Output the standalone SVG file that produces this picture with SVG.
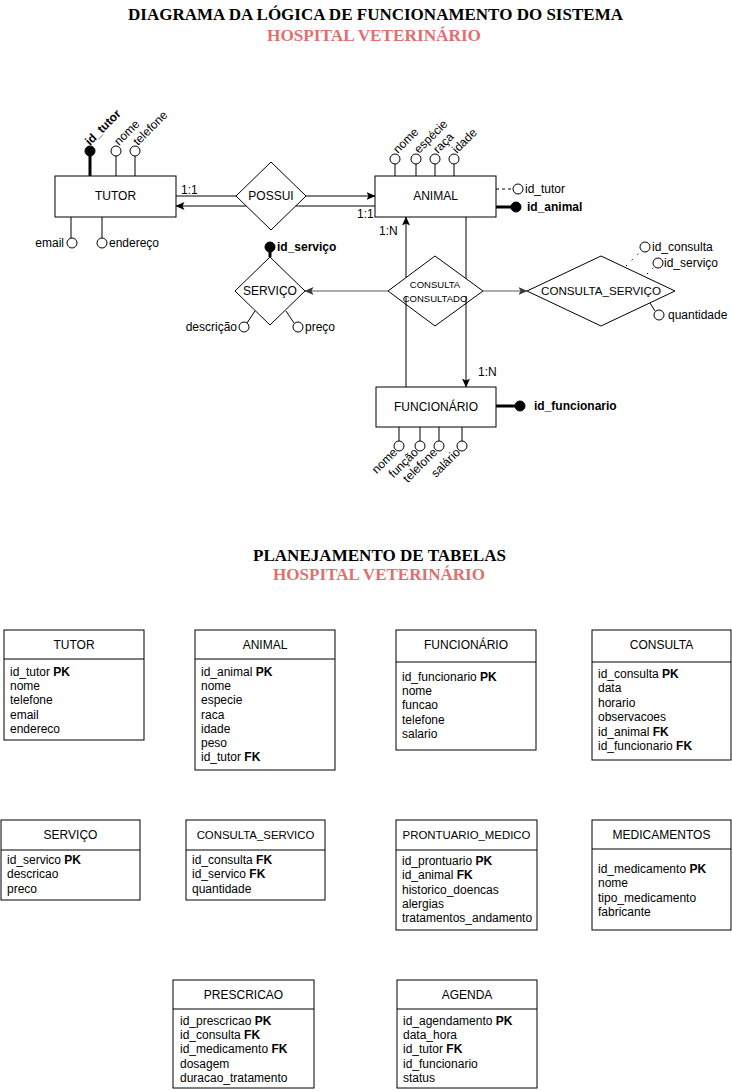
<svg xmlns="http://www.w3.org/2000/svg" width="732" height="1091" viewBox="0 0 732 1091">
<defs>
<style>
text{font-family:"Liberation Sans",Arial,sans-serif;font-size:12px;fill:#000}
.ttl{font-family:"Liberation Serif","Times New Roman",serif;font-weight:bold;font-size:17px;text-anchor:middle}
.red{fill:#E07070}
.c{text-anchor:middle}
.e{text-anchor:end}
.b{font-weight:bold}
.box{fill:#fff;stroke:#000;stroke-width:1}
.ln{fill:none;stroke:#000;stroke-width:1}
.thick{fill:none;stroke:#000;stroke-width:3}
.gray{fill:none;stroke:#5a5a5a;stroke-width:1.2}
.oc{fill:#fff;stroke:#000;stroke-width:1}
.fc{fill:#000;stroke:#000;stroke-width:1}
.small{font-size:9.5px}
.s11{font-size:11.4px}
.s115{font-size:11.6px}
</style>
<marker id="arr" viewBox="0 0 9 8" markerWidth="9" markerHeight="8" refX="8.5" refY="4" orient="auto" markerUnits="userSpaceOnUse">
<path d="M0,0 L9,4 L0,8 L2,4 z" fill="#000"/>
</marker>
<marker id="arrg" viewBox="0 0 9 8" markerWidth="9" markerHeight="8" refX="8.5" refY="4" orient="auto" markerUnits="userSpaceOnUse">
<path d="M0,0 L9,4 L0,8 L2,4 z" fill="#3a3a3a"/>
</marker>
</defs>
<rect width="732" height="1091" fill="#fff"/>

<g id="titles">
<text class="ttl" x="375.5" y="20" textLength="495" lengthAdjust="spacingAndGlyphs">DIAGRAMA DA LÓGICA DE FUNCIONAMENTO DO SISTEMA</text>
<text class="ttl red" x="374" y="41" textLength="214" lengthAdjust="spacingAndGlyphs">HOSPITAL VETERINÁRIO</text>
<text class="ttl" x="379.5" y="561" textLength="253" lengthAdjust="spacingAndGlyphs">PLANEJAMENTO DE TABELAS</text>
<text class="ttl red" x="379" y="580" textLength="212" lengthAdjust="spacingAndGlyphs">HOSPITAL VETERINÁRIO</text>
</g>

<g id="connectors">
<line class="ln" x1="176" y1="196" x2="236" y2="196"/>
<line class="ln" x1="306" y1="196" x2="375" y2="196" marker-end="url(#arr)"/>
<line class="ln" x1="375" y1="206" x2="176" y2="206" marker-end="url(#arr)"/>
<line class="ln" x1="406" y1="387" x2="406" y2="217" marker-end="url(#arr)"/>
<line class="ln" x1="466" y1="217" x2="466" y2="387" marker-end="url(#arr)"/>
<line class="gray" x1="388" y1="291" x2="305" y2="291" marker-end="url(#arrg)"/>
<line class="gray" x1="483" y1="291" x2="527" y2="291" marker-end="url(#arrg)"/>
<text x="181" y="194">1:1</text>
<text x="357" y="218">1:1</text>
<text x="379" y="235">1:N</text>
<text x="478" y="376">1:N</text>
</g>

<g id="tutor">
<rect class="box" x="55" y="176" width="121" height="41"/>
<text class="c" x="115.5" y="200">TUTOR</text>
</g>
<g id="tutor-id_tutor">
<line class="thick" x1="90" y1="176" x2="90" y2="155"/>
<circle class="fc" cx="90" cy="151" r="5"/>
<text class="b" x="90" y="146" transform="rotate(-45 90 146)">id_tutor</text>
</g>
<g id="tutor-nome">
<line class="ln" x1="116" y1="176" x2="116" y2="156"/>
<circle class="oc" cx="116" cy="151" r="5"/>
<text x="119" y="146" transform="rotate(-45 119 146)">nome</text>
</g>
<g id="tutor-telefone">
<line class="ln" x1="135" y1="176" x2="135" y2="156"/>
<circle class="oc" cx="135" cy="151" r="5"/>
<text x="138" y="146" transform="rotate(-45 138 146)">telefone</text>
</g>
<g id="tutor-email">
<line class="ln" x1="71" y1="217" x2="71" y2="238"/>
<circle class="oc" cx="72" cy="243" r="5"/>
<text class="e" x="64" y="247">email</text>
</g>
<g id="tutor-endereco">
<line class="ln" x1="102" y1="217" x2="102" y2="238"/>
<circle class="oc" cx="102" cy="243" r="5"/>
<text x="109" y="247">endereço</text>
</g>

<g id="possui">
<polygon class="box" points="236,196 271,162 306,196 271,230"/>
<text class="c" x="271" y="200">POSSUI</text>
</g>

<g id="animal">
<rect class="box" x="375" y="176" width="121" height="41"/>
<text class="c" x="435.5" y="200">ANIMAL</text>
</g>
<g id="animal-nome">
<line class="ln" x1="395" y1="176" x2="395" y2="164"/>
<circle class="oc" cx="395" cy="159" r="5"/>
<text x="398" y="154" transform="rotate(-45 398 154)">nome</text>
</g>
<g id="animal-especie">
<line class="ln" x1="416" y1="176" x2="416" y2="164"/>
<circle class="oc" cx="416" cy="159" r="5"/>
<text x="419" y="154" transform="rotate(-45 419 154)">espécie</text>
</g>
<g id="animal-raca">
<line class="ln" x1="435" y1="176" x2="435" y2="164"/>
<circle class="oc" cx="435" cy="159" r="5"/>
<text x="438" y="154" transform="rotate(-45 438 154)">raça</text>
</g>
<g id="animal-idade">
<line class="ln" x1="454" y1="176" x2="454" y2="164"/>
<circle class="oc" cx="454" cy="159" r="5"/>
<text x="457" y="154" transform="rotate(-45 457 154)">idade</text>
</g>
<g id="animal-id_tutor">
<line class="ln" x1="496" y1="189" x2="513" y2="189" stroke-dasharray="3 3"/>
<circle class="oc" cx="518" cy="189" r="5"/>
<text x="525" y="193">id_tutor</text>
</g>
<g id="animal-id_animal">
<line class="thick" x1="496" y1="207" x2="512" y2="207"/>
<circle class="fc" cx="516" cy="207" r="5"/>
<text class="b" x="527" y="211">id_animal</text>
</g>

<g id="servico">
<polygon class="box" points="235,291 270,257 305,291 270,325"/>
<text class="c" x="270" y="295">SERVIÇO</text>
</g>
<g id="servico-id_servico">
<line class="thick" x1="270" y1="257" x2="270" y2="250"/>
<circle class="fc" cx="270" cy="247" r="5"/>
<text class="b" x="277" y="251">id_serviço</text>
</g>
<g id="servico-descricao">
<line class="ln" x1="255" y1="311" x2="247" y2="323"/>
<circle class="oc" cx="244" cy="327" r="5"/>
<text class="e" x="237" y="331">descrição</text>
</g>
<g id="servico-preco">
<line class="ln" x1="286" y1="311" x2="294" y2="323"/>
<circle class="oc" cx="298" cy="327" r="5"/>
<text x="305" y="331">preço</text>
</g>

<g id="consulta">
<polygon class="box" points="388,291 435,256 483,291 435,326"/>
<text class="c small" x="435" y="288">CONSULTA</text>
<text class="c small" x="435" y="302">CONSULTADO</text>
</g>
<g id="connectors-over">
<line class="ln" x1="406" y1="296" x2="406" y2="305"/>
<line class="ln" x1="466" y1="296" x2="466" y2="304"/>
</g>

<g id="consulta_servico">
<polygon class="box" points="527,291 601,256 675,291 601,326"/>
<text class="c s115" x="601" y="295">CONSULTA_SERVIÇO</text>
</g>
<g id="cs-id_consulta">
<line class="ln" x1="626" y1="266" x2="641" y2="251" stroke-dasharray="1.5 6.5"/>
<circle class="oc" cx="645" cy="247" r="5"/>
<text x="652" y="251">id_consulta</text>
</g>
<g id="cs-id_servico">
<line class="ln" x1="647" y1="274" x2="655" y2="266" stroke-dasharray="1.5 6"/>
<circle class="oc" cx="658" cy="263" r="5"/>
<text x="664" y="267">id_serviço</text>
</g>
<g id="cs-quantidade">
<line class="ln" x1="650" y1="303" x2="655" y2="311"/>
<circle class="oc" cx="659" cy="315" r="5"/>
<text x="668" y="319">quantidade</text>
</g>

<g id="funcionario">
<rect class="box" x="376" y="387" width="120" height="40"/>
<text class="c" x="436" y="411">FUNCIONÁRIO</text>
</g>
<g id="func-id_funcionario">
<line class="thick" x1="496" y1="406" x2="516" y2="406"/>
<circle class="fc" cx="520" cy="406" r="5"/>
<text class="b" x="534" y="410">id_funcionario</text>
</g>
<g id="func-nome">
<line class="ln" x1="399" y1="427" x2="399" y2="441"/>
<circle class="oc" cx="399" cy="446" r="5"/>
<text class="e" x="398" y="453" transform="rotate(-45 398 453)">nome</text>
</g>
<g id="func-funcao">
<line class="ln" x1="420" y1="427" x2="420" y2="441"/>
<circle class="oc" cx="420" cy="446" r="5"/>
<text class="e" x="419" y="453" transform="rotate(-45 419 453)">função</text>
</g>
<g id="func-telefone">
<line class="ln" x1="439" y1="427" x2="439" y2="441"/>
<circle class="oc" cx="439" cy="446" r="5"/>
<text class="e" x="438" y="453" transform="rotate(-45 438 453)">telefone</text>
</g>
<g id="func-salario">
<line class="ln" x1="462" y1="427" x2="462" y2="441"/>
<circle class="oc" cx="462" cy="446" r="5"/>
<text class="e" x="461" y="453" transform="rotate(-45 461 453)">salário</text>
</g>

<g id="t-tutor">
<rect class="box" x="4" y="630" width="140" height="110"/>
<line class="ln" x1="4" y1="659" x2="144" y2="659"/>
<text class="c" x="74" y="649">TUTOR</text>
<text x="10" y="676">id_tutor <tspan class="b">PK</tspan></text>
<text x="10" y="690.2">nome</text>
<text x="10" y="704.4">telefone</text>
<text x="10" y="718.6">email</text>
<text x="10" y="732.8">endereco</text>
</g>

<g id="t-animal">
<rect class="box" x="195" y="630" width="140" height="140"/>
<line class="ln" x1="195" y1="659" x2="335" y2="659"/>
<text class="c" x="265" y="649">ANIMAL</text>
<text x="201" y="676">id_animal <tspan class="b">PK</tspan></text>
<text x="201" y="690.2">nome</text>
<text x="201" y="704.4">especie</text>
<text x="201" y="718.6">raca</text>
<text x="201" y="732.8">idade</text>
<text x="201" y="747">peso</text>
<text x="201" y="761.2">id_tutor <tspan class="b">FK</tspan></text>
</g>

<g id="t-funcionario">
<rect class="box" x="396" y="630" width="140" height="120"/>
<line class="ln" x1="396" y1="662" x2="536" y2="662"/>
<text class="c" x="466" y="649">FUNCIONÁRIO</text>
<text x="402" y="681">id_funcionario <tspan class="b">PK</tspan></text>
<text x="402" y="695.2">nome</text>
<text x="402" y="709.4">funcao</text>
<text x="402" y="723.6">telefone</text>
<text x="402" y="737.8">salario</text>
</g>

<g id="t-consulta">
<rect class="box" x="592" y="630" width="139" height="130"/>
<line class="ln" x1="592" y1="662" x2="731" y2="662"/>
<text class="c" x="661.5" y="649">CONSULTA</text>
<text x="598" y="678">id_consulta <tspan class="b">PK</tspan></text>
<text x="598" y="692.4">data</text>
<text x="598" y="706.8">horario</text>
<text x="598" y="721.2">observacoes</text>
<text x="598" y="735.6">id_animal <tspan class="b">FK</tspan></text>
<text x="598" y="750">id_funcionario <tspan class="b">FK</tspan></text>
</g>

<g id="t-servico">
<rect class="box" x="1" y="820" width="139" height="80"/>
<line class="ln" x1="1" y1="850" x2="140" y2="850"/>
<text class="c" x="70.5" y="839">SERVIÇO</text>
<text x="7" y="864">id_servico <tspan class="b">PK</tspan></text>
<text x="7" y="878.4">descricao</text>
<text x="7" y="892.8">preco</text>
</g>

<g id="t-consulta_servico">
<rect class="box" x="186" y="820" width="139" height="80"/>
<line class="ln" x1="186" y1="850" x2="325" y2="850"/>
<text class="c s11" x="255.5" y="839">CONSULTA_SERVICO</text>
<text x="192" y="864">id_consulta <tspan class="b">FK</tspan></text>
<text x="192" y="878.4">id_servico <tspan class="b">FK</tspan></text>
<text x="192" y="892.8">quantidade</text>
</g>

<g id="t-prontuario_medico">
<rect class="box" x="396" y="820" width="141" height="110"/>
<line class="ln" x1="396" y1="850" x2="537" y2="850"/>
<text class="c s11" x="466.5" y="839">PRONTUARIO_MEDICO</text>
<text x="402" y="865">id_prontuario <tspan class="b">PK</tspan></text>
<text x="402" y="879.3">id_animal <tspan class="b">FK</tspan></text>
<text x="402" y="893.6">historico_doencas</text>
<text x="402" y="907.9">alergias</text>
<text x="402" y="922.2">tratamentos_andamento</text>
</g>

<g id="t-medicamentos">
<rect class="box" x="592" y="820" width="139" height="110"/>
<line class="ln" x1="592" y1="849" x2="731" y2="849"/>
<text class="c" x="661.5" y="839">MEDICAMENTOS</text>
<text x="598" y="873">id_medicamento <tspan class="b">PK</tspan></text>
<text x="598" y="887.3">nome</text>
<text x="598" y="901.6">tipo_medicamento</text>
<text x="598" y="915.9">fabricante</text>
</g>

<g id="t-prescricao">
<rect class="box" x="173" y="980" width="141" height="108"/>
<line class="ln" x1="173" y1="1009" x2="314" y2="1009"/>
<text class="c" x="243.5" y="999">PRESCRICAO</text>
<text x="180" y="1025">id_prescricao <tspan class="b">PK</tspan></text>
<text x="180" y="1039.2">id_consulta <tspan class="b">FK</tspan></text>
<text x="180" y="1053.4">id_medicamento <tspan class="b">FK</tspan></text>
<text x="180" y="1067.6">dosagem</text>
<text x="180" y="1081.8">duracao_tratamento</text>
</g>

<g id="t-agenda">
<rect class="box" x="397" y="980" width="140" height="108"/>
<line class="ln" x1="397" y1="1009" x2="537" y2="1009"/>
<text class="c" x="467" y="999">AGENDA</text>
<text x="403" y="1025">id_agendamento <tspan class="b">PK</tspan></text>
<text x="403" y="1039.2">data_hora</text>
<text x="403" y="1053.4">id_tutor <tspan class="b">FK</tspan></text>
<text x="403" y="1067.6">id_funcionario</text>
<text x="403" y="1081.8">status</text>
</g>
</svg>
